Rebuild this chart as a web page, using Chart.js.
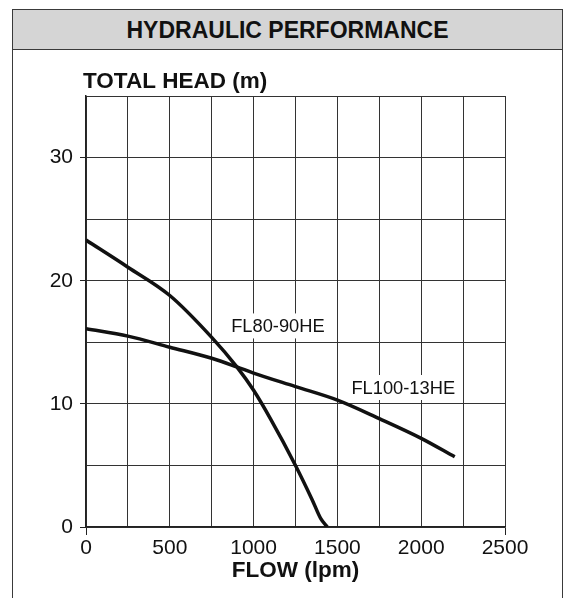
<!DOCTYPE html>
<html><head><meta charset="utf-8">
<script src="https://cdn.jsdelivr.net/npm/chart.js@4/dist/chart.umd.min.js"></script>
<style>
html,body{margin:0;padding:0;background:#fff;overflow:hidden}
#wrap{position:relative;width:567px;height:598px}
#panel{position:absolute;left:12px;top:9px;width:551px;height:600px;border:1.5px solid #3a3a3a;box-sizing:border-box}
#hdr{height:39px;background:#d5d5d5;border-bottom:1.5px solid #3a3a3a;font:bold 23px "Liberation Sans",Arial,sans-serif;text-align:center;line-height:41px;color:#111}
canvas{position:absolute;left:0;top:0}
</style></head><body>
<div id="wrap"><div id="panel"><div id="hdr">HYDRAULIC PERFORMANCE</div></div><canvas id="c" width="567" height="598"></canvas></div>
<script>
const flow80 = [0, 250, 500, 750, 900, 1000, 1100, 1250, 1350, 1400, 1440];
const head80 = [23.3, 21.1, 18.8, 15.4, 13.0, 11.1, 8.8, 5.0, 2.2, 0.7, 0];
const flow100 = [0, 250, 500, 750, 900, 1000, 1250, 1500, 1750, 2000, 2200];
const head100 = [16.1, 15.5, 14.6, 13.7, 13.0, 12.5, 11.4, 10.3, 8.8, 7.2, 5.7];
const seriesNames = ['FL80-90HE', 'FL100-13HE'];
const xTickLabels = [0, 500, 1000, 1500, 2000, 2500];
const yTickLabels = [0, 10, 20, 30];
const xTitle = 'FLOW (lpm)';
const yTitle = 'TOTAL HEAD (m)';

// label anchors in data units (flow, head)
const labelAt = [[1145, 15.8], [1893, 10.8]];

const FONT = '"Liberation Sans", Arial, sans-serif';
const pts = (xs, ys) => xs.map((x, i) => ({x, y: ys[i]}));

const labelBgPlugin = {
  id: 'labelBg',
  beforeDatasetsDraw(chart) {
    const {ctx, scales} = chart;
    ctx.save();
    ctx.font = '18.3px ' + FONT;
    ctx.fillStyle = '#fff';
    seriesNames.forEach((n, i) => {
      const w = ctx.measureText(n).width;
      const x = scales.x.getPixelForValue(labelAt[i][0]);
      const y = scales.y.getPixelForValue(labelAt[i][1]);
      ctx.fillRect(x - w / 2 - 2, y - 19, w + 4, 25);
    });
    ctx.restore();
  }
};

const textPlugin = {
  id: 'texts',
  afterDraw(chart) {
    const {ctx, chartArea, scales} = chart;
    ctx.save();
    ctx.fillStyle = '#111';
    ctx.font = 'bold 22.5px ' + FONT;
    ctx.textAlign = 'left';
    ctx.textBaseline = 'alphabetic';
    ctx.fillText(yTitle, chartArea.left - 3, chartArea.top - 8);
    ctx.textAlign = 'center';
    ctx.fillText(xTitle, (chartArea.left + chartArea.right) / 2, chartArea.bottom + 50);
    ctx.font = '18.3px ' + FONT;
    seriesNames.forEach((n, i) => {
      ctx.fillText(n, scales.x.getPixelForValue(labelAt[i][0]), scales.y.getPixelForValue(labelAt[i][1]));
    });
    ctx.restore();
  }
};

new Chart(document.getElementById('c'), {
  type: 'line',
  data: {
    datasets: [
      {label: seriesNames[0], data: pts(flow80, head80)},
      {label: seriesNames[1], data: pts(flow100, head100)}
    ]
  },
  options: {
    responsive: false,
    animation: false,
    layout: {padding: {top: 96, right: 62, left: 0, bottom: 0}},
    elements: {
      line: {borderColor: '#111', borderWidth: 3.5, cubicInterpolationMode: 'monotone', fill: false},
      point: {radius: 0}
    },
    plugins: {legend: {display: false}, tooltip: {enabled: false}},
    scales: {
      x: {
        type: 'linear', min: 0, max: 2500,
        afterFit: s => { s.height = 71; },
        ticks: {
          stepSize: 250, autoSkip: false, maxRotation: 0, padding: 1,
          color: '#111', font: {family: FONT, size: 21},
          callback: v => xTickLabels.includes(v) ? String(v) : ''
        },
        grid: {
          color: '#333', lineWidth: 1, tickLength: 8,
          tickColor: c => (c.tick && (c.tick.value === 0 || c.tick.value === 2500)) ? '#222' : 'rgba(0,0,0,0)'
        },
        border: {color: '#222', width: 1.5}
      },
      y: {
        type: 'linear', min: 0, max: 35,
        afterFit: s => { s.width = 86; },
        ticks: {
          stepSize: 5, autoSkip: false, padding: 7,
          color: '#111', font: {family: FONT, size: 21},
          callback: v => yTickLabels.includes(v) ? String(v) : ''
        },
        grid: {
          color: '#333', lineWidth: 1, tickLength: 6,
          tickColor: c => (c.tick && yTickLabels.includes(c.tick.value)) ? '#222' : 'rgba(0,0,0,0)'
        },
        border: {color: '#222', width: 1.5}
      }
    }
  },
  plugins: [labelBgPlugin, textPlugin]
});
</script>
</body></html>
